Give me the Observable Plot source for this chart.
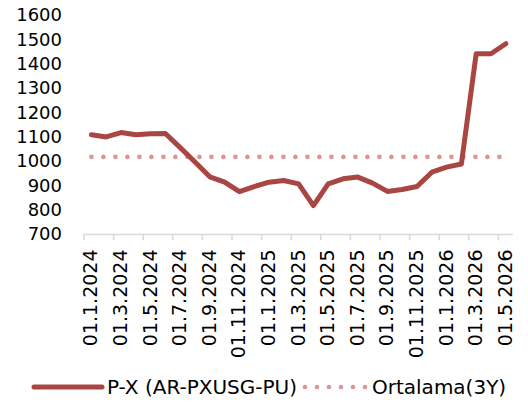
<!DOCTYPE html>
<html>
<head>
<meta charset="utf-8">
<script src="https://cdn.jsdelivr.net/npm/d3@7"></script>
<script src="https://cdn.jsdelivr.net/npm/@observablehq/plot@0.6"></script>
<style>
  html, body { margin: 0; padding: 0; background: #fff; }
  body { width: 528px; height: 416px; overflow: hidden; font-family: "DejaVu Sans", sans-serif; }
  #legend { position: relative; height: 44px; font-size: 20px; color: #000; }
  #legend .item { position: absolute; top: 0; height: 30px; display: flex; align-items: center; white-space: nowrap; }
</style>
</head>
<body>
<div id="chart"></div>
<div id="legend"></div>
<script>
// Category labels (monthly), one per data point
const months = [
  "01.1.2024","01.2.2024","01.3.2024","01.4.2024","01.5.2024","01.6.2024",
  "01.7.2024","01.8.2024","01.9.2024","01.10.2024","01.11.2024","01.12.2024",
  "01.1.2025","01.2.2025","01.3.2025","01.4.2025","01.5.2025","01.6.2025",
  "01.7.2025","01.8.2025","01.9.2025","01.10.2025","01.11.2025","01.12.2025",
  "01.1.2026","01.2.2026","01.3.2026","01.4.2026","01.5.2026"
];
// P-X (AR-PXUSG-PU) values
const pxValues = [
  1110, 1101, 1119, 1110, 1114, 1115,
  1057, 998, 937, 915, 876, 897,
  915, 922, 908, 819, 908, 929,
  936, 911, 877, 885, 897, 956,
  977, 990, 1443, 1443, 1484
];
// 3-year average
const average3Y = 1019;
const seriesNames = ["P-X (AR-PXUSG-PU)", "Ortalama(3Y)"];
const yTicks = [700, 800, 900, 1000, 1100, 1200, 1300, 1400, 1500, 1600];

const lineColor = "#A94643";
const avgColor = "#D99694";

const data = months.map((m, i) => ({i, label: m, value: pxValues[i], avg: average3Y}));
const labelIdx = months.map((m, i) => i).filter(i => i % 2 === 0);
const boundaryTicks = months.map((m, i) => i - 0.5).filter((v, k) => k % 2 === 0);

const chart = Plot.plot({
  width: 528,
  height: 372,
  marginLeft: 83.5,
  marginRight: 15.3,
  marginTop: 15,
  marginBottom: 138,
  style: {fontFamily: "'DejaVu Sans', sans-serif", fontSize: "18px", color: "#000", background: "#fff"},
  x: {type: "linear", domain: [-0.5, months.length - 0.5]},
  y: {domain: [700, 1600]},
  marks: [
    Plot.axisY({ticks: yTicks, tickSize: 0, tickPadding: 22, tickFormat: d => String(d), label: null, fontSize: 18, fill: "#000"}),
    Plot.ruleY([700], {stroke: "#D9D9D9", strokeWidth: 1.5}),
    Plot.axisX({ticks: boundaryTicks, tickSize: 6, tickFormat: () => "", stroke: "#D9D9D9", strokeWidth: 1.5, label: null}),
    Plot.axisX({ticks: labelIdx, tickSize: 0, tickPadding: 15, tickRotate: -90, tickFormat: i => months[i], label: null, fontSize: 19, fill: "#000"}),
    Plot.line(data, {x: "i", y: "avg", stroke: avgColor, strokeWidth: 4.6, strokeDasharray: "0 12", strokeLinecap: "round"}),
    Plot.line(data, {x: "i", y: "value", stroke: lineColor, strokeWidth: 5, strokeLinecap: "round", strokeLinejoin: "round"})
  ]
});
document.getElementById("chart").appendChild(chart);

// Legend (HTML below the SVG)
const legend = document.getElementById("legend");
legend.innerHTML = `
  <div class="item" style="left:31px">
    <svg width="74" height="10" style="margin-right:2px"><line x1="3" y1="5" x2="71" y2="5" stroke="${lineColor}" stroke-width="5" stroke-linecap="round"/></svg>
    <span>${seriesNames[0]}</span>
  </div>
  <div class="item" style="left:302px">
    <svg width="68" height="10" style="margin-right:2px"><line x1="3" y1="5" x2="66" y2="5" stroke="${avgColor}" stroke-width="4.6" stroke-dasharray="0 12" stroke-linecap="round"/></svg>
    <span>${seriesNames[1]}</span>
  </div>`;
</script>
</body>
</html>
